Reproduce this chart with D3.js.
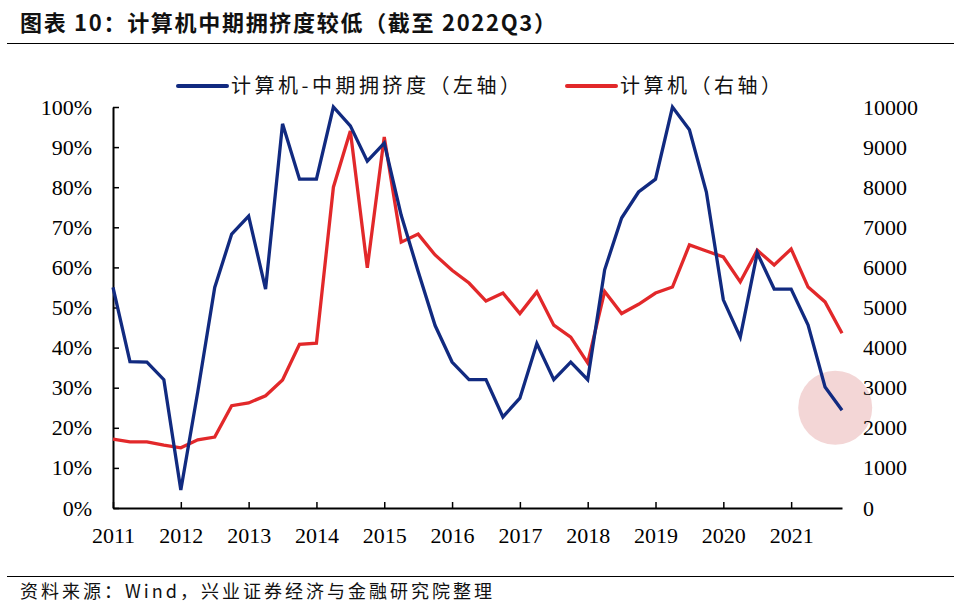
<!DOCTYPE html>
<html>
<head>
<meta charset="utf-8">
<script src="https://cdn.jsdelivr.net/npm/d3@7"></script>
<style>
  body { margin: 0; background: #fff; }
  svg { display: block; }
</style>
</head>
<body>
<div id="chart"></div>
<script>
// quarterly points, 2011Q1 onward
const years = ["2011", "2012", "2013", "2014", "2015", "2016", "2017", "2018", "2019", "2020", "2021"];

const crowding = [
  55, 36.5, 36.4, 32, 4.5, 29, 55, 68.3, 72.8, 54.6, 95.8, 82,
  82, 100, 95.3, 86.5, 91, 73, 59, 45.5, 36.4, 32, 32, 22.7,
  27.4, 41, 32, 36.4, 32, 59.4, 72.3, 78.8, 82, 100, 94.3, 78.8,
  51.9, 42.6, 63.6, 54.6, 54.6, 45.6, 30.2, 24.4
];

const index = [
  1720, 1650, 1650, 1570, 1500, 1700, 1770, 2550, 2620, 2800, 3190, 4080,
  4110, 8000, 9400, 5990, 9250, 6630, 6830, 6310, 5930, 5610, 5160, 5360,
  4850, 5390, 4560, 4260, 3620, 5400, 4850, 5080, 5360, 5510, 6560, 6410,
  6260, 5640, 6430, 6060, 6460, 5510, 5140, 4360
];

const leftTicks = [0, 10, 20, 30, 40, 50, 60, 70, 80, 90, 100];
const rightTicks = [0, 1000, 2000, 3000, 4000, 5000, 6000, 7000, 8000, 9000, 10000];

const width = 963, height = 612;
const blue = "#112a80", red = "#e2282a";
const serif = "'Liberation Serif', 'Times New Roman', serif";
const cjk = "'Noto Sans CJK SC', sans-serif";

const svg = d3.select("#chart").append("svg")
  .attr("width", width).attr("height", height);

const x = d3.scaleLinear().domain([0, crowding.length - 1]).range([113, 842]);
const yL = d3.scaleLinear().domain([0, 100]).range([508, 107]);
const yR = d3.scaleLinear().domain([0, 10000]).range([508, 107]);

// title + rules
svg.append("text")
  .attr("x", 20).attr("y", 31)
  .attr("font-family", cjk).attr("font-weight", "bold")
  .attr("font-size", 22).attr("letter-spacing", 1.7).attr("fill", "#111")
  .text("图表 10：计算机中期拥挤度较低（截至 2022Q3）");
svg.append("line").attr("x1", 7).attr("x2", 954).attr("y1", 43.5).attr("y2", 43.5)
  .attr("stroke", "#000").attr("stroke-width", 1.2);
svg.append("line").attr("x1", 7).attr("x2", 954).attr("y1", 576.5).attr("y2", 576.5)
  .attr("stroke", "#000").attr("stroke-width", 1.2);
svg.append("text")
  .attr("x", 20).attr("y", 598)
  .attr("font-family", cjk).attr("font-size", 18).attr("letter-spacing", 3).attr("fill", "#111")
  .text("资料来源：Wind，兴业证券经济与金融研究院整理");

// highlight circle
svg.append("circle")
  .attr("cx", x(42.6)).attr("cy", yL(25)).attr("r", 37)
  .attr("fill", "#f3d6d6");

// left axis
const gL = svg.append("g").attr("transform", "translate(113,0)")
  .call(d3.axisLeft(yL).tickValues(leftTicks).tickFormat(d => d + "%").tickSizeInner(-6).tickSizeOuter(0).tickPadding(21));
// right axis (labels only)
const gR = svg.append("g").attr("transform", "translate(842,0)")
  .call(d3.axisRight(yR).tickValues(rightTicks).tickFormat(d3.format("d")).tickSize(0).tickPadding(21));
gR.select(".domain").remove();
// bottom axis
const gB = svg.append("g").attr("transform", "translate(0,508)")
  .call(d3.axisBottom(x).tickValues(years.map((d, i) => i * 4))
    .tickFormat((d, i) => years[i]).tickSizeInner(-6).tickSizeOuter(0).tickPadding(19));

[gL, gR, gB].forEach(g => {
  g.selectAll("text").attr("font-family", serif).attr("font-size", 22).attr("fill", "#000");
  g.selectAll("line").attr("stroke", "#000").attr("stroke-width", 1.5);
  g.select(".domain").attr("stroke", "#000").attr("stroke-width", 2);
});

// lines
const lineL = d3.line().x((d, i) => x(i)).y(d => yL(d));
const lineR = d3.line().x((d, i) => x(i)).y(d => yR(d));

svg.append("path").datum(index)
  .attr("d", lineR).attr("fill", "none")
  .attr("stroke", red).attr("stroke-width", 3.3).attr("stroke-linejoin", "miter");
svg.append("path").datum(crowding)
  .attr("d", lineL).attr("fill", "none")
  .attr("stroke", blue).attr("stroke-width", 3.3).attr("stroke-linejoin", "miter");

// legend
const legend = [
  { label: "计算机-中期拥挤度（左轴）", color: blue, x: 178 },
  { label: "计算机（右轴）", color: red, x: 567 }
];
const lg = svg.selectAll(".lg").data(legend).join("g").attr("class", "lg")
  .attr("transform", d => `translate(${d.x},86)`);
lg.append("line").attr("x1", 0).attr("x2", 49)
  .attr("stroke", d => d.color).attr("stroke-width", 4).attr("stroke-linecap", "round");
lg.append("text").attr("x", 53).attr("y", 7)
  .attr("font-family", cjk).attr("font-size", 20).attr("letter-spacing", 3.5).attr("fill", "#111")
  .text(d => d.label);
</script>
</body>
</html>
